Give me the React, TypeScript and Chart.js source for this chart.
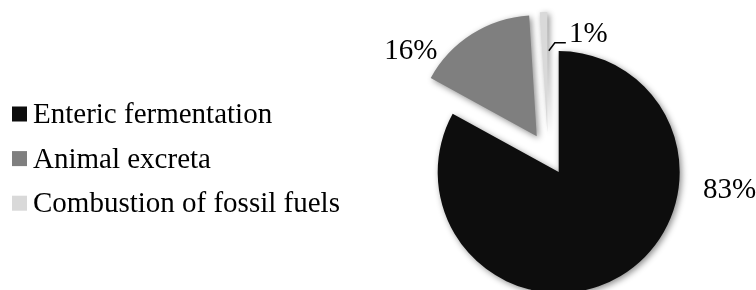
import React, { useEffect, useRef } from "react";
import { Chart, registerables } from "chart.js";

Chart.register(...registerables);

const categories = ["Enteric fermentation", "Animal excreta", "Combustion of fossil fuels"];
const values = [83, 16, 1];
const valueLabels = ["83%", "16%", "1%"];
const colors = ["#0d0d0d", "#7f7f7f", "#d9d9d9"];

const FONT = "29px 'Liberation Serif', 'Times New Roman', serif";
const EXPLODE = 21;
// label anchor offsets relative to each exploded slice's apex (style only)
const labelOffsets: [number, number][] = [
  [171, 26],
  [-126, -77.5],
  [41, -91],
];

const explodePlugin = {
  id: "explode",
  afterDatasetsUpdate(chart: any) {
    const meta = chart.getDatasetMeta(0);
    meta.data.forEach((arc: any) => {
      const mid = (arc.startAngle + arc.endAngle) / 2;
      arc.x += Math.cos(mid) * EXPLODE;
      arc.y += Math.sin(mid) * EXPLODE;
    });
  },
};

const shadowPlugin = {
  id: "shadow",
  beforeDatasetsDraw(chart: any) {
    const ctx = chart.ctx;
    ctx.save();
    ctx.shadowColor = "rgba(0,0,0,0.45)";
    ctx.shadowBlur = 6;
    ctx.shadowOffsetX = 2;
    ctx.shadowOffsetY = 2;
  },
  afterDatasetsDraw(chart: any) {
    chart.ctx.restore();
  },
};

const labelsPlugin = {
  id: "sliceLabels",
  afterDraw(chart: any) {
    const ctx = chart.ctx;
    const meta = chart.getDatasetMeta(0);
    ctx.save();
    ctx.font = FONT;
    ctx.fillStyle = "#000";
    ctx.textAlign = "center";
    ctx.textBaseline = "alphabetic";
    meta.data.forEach((arc: any, i: number) => {
      const [dx, dy] = labelOffsets[i];
      ctx.fillText(valueLabels[i], arc.x + dx, arc.y + dy);
    });
    // leader line for the small slice
    const small = meta.data[2];
    if (small) {
      const a = small.endAngle;
      const r = small.outerRadius * 0.68;
      const sx = small.x + Math.cos(a) * r + 1.5;
      const sy = small.y + Math.sin(a) * r;
      ctx.strokeStyle = "#000";
      ctx.lineWidth = 1.5;
      ctx.beginPath();
      ctx.moveTo(sx, sy);
      ctx.lineTo(sx + 6, sy - 8);
      ctx.lineTo(sx + 17, sy - 8);
      ctx.stroke();
    }
    // legend
    const rows = [114, 158.6, 203.2];
    ctx.textAlign = "left";
    categories.forEach((c, i) => {
      const cy = rows[i];
      ctx.fillStyle = colors[i];
      ctx.fillRect(12, cy - 7.5, 15, 15);
      ctx.fillStyle = "#000";
      ctx.fillText(c, 33, cy + 9);
    });
    ctx.restore();
  },
};

export default function App() {
  const ref = useRef<HTMLCanvasElement | null>(null);
  useEffect(() => {
    if (!ref.current) return;
    const chart = new Chart(ref.current, {
      type: "pie",
      data: {
        labels: categories,
        datasets: [
          {
            data: values,
            backgroundColor: colors,
            borderWidth: 0,
            offset: 0,
          },
        ],
      },
      options: {
        responsive: false,
        animation: false,
        radius: 121,
        layout: { padding: { left: 400, right: 60, top: 18, bottom: 0 } },
        plugins: {
          legend: { display: false },
          tooltip: { enabled: false },
        },
        events: [],
      } as any,
      plugins: [explodePlugin, shadowPlugin, labelsPlugin],
    });
    return () => chart.destroy();
  }, []);
  return (
    <div style={{ position: "absolute", left: 0, top: 0, width: 756, height: 290, background: "#fff" }}>
      <canvas ref={ref} width={756} height={290} style={{ display: "block", width: 756, height: 290 }} />
    </div>
  );
}
